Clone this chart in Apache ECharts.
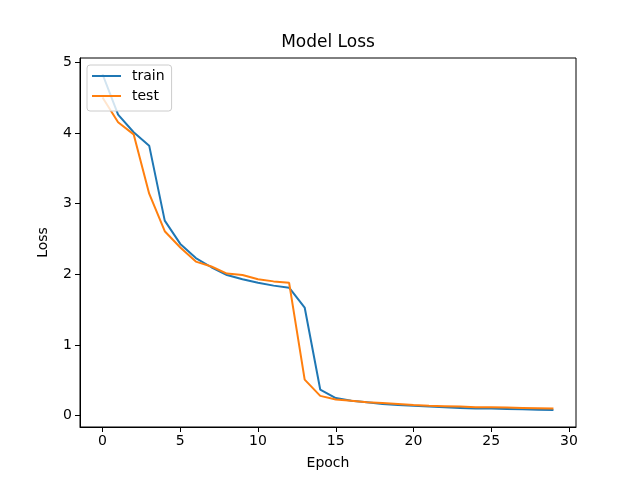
<!DOCTYPE html>
<html>
<head>
<meta charset="utf-8">
<script src="https://cdn.jsdelivr.net/npm/echarts@6/dist/echarts.min.js"></script>
<style>html,body{margin:0;padding:0;background:#fff}#c{width:640px;height:480px}</style>
</head>
<body>
<div id="c"></div>
<script>
const epochs = [0,1,2,3,4,5,6,7,8,9,10,11,12,13,14,15,16,17,18,19,20,21,22,23,24,25,26,27,28,29];
const trainLoss = [4.83,4.26,4.01,3.82,2.76,2.43,2.23,2.10,1.99,1.93,1.88,1.84,1.81,1.53,0.37,0.25,0.21,0.19,0.165,0.15,0.14,0.13,0.12,0.11,0.10,0.10,0.095,0.09,0.085,0.08];
const testLoss = [4.50,4.15,3.98,3.14,2.61,2.38,2.18,2.11,2.01,1.99,1.93,1.90,1.88,0.51,0.28,0.23,0.21,0.19,0.18,0.165,0.15,0.14,0.135,0.13,0.12,0.12,0.115,0.11,0.105,0.10];
const xTicks = [0,5,10,15,20,25,30];
const yTicks = [0,1,2,3,4,5];

const font = 'DejaVu Sans';
const chart = echarts.init(document.getElementById('c'), null, {renderer:'canvas'});
chart.setOption({
  animation: false,
  backgroundColor: '#fff',
  title: {text: 'Model Loss', left: 328, top: 34, textAlign: 'center', padding: 0,
    textStyle: {fontFamily: font, fontSize: 17, fontWeight: 'normal', color: '#000'}},
  legend: {
    orient: 'vertical', left: 87, top: 65,
    data: ['train','test'],
    icon: 'rect', itemWidth: 29, itemHeight: 2, itemGap: 6,
    padding: [4, 7, 8, 5],
    backgroundColor: 'rgba(255,255,255,0.8)', borderColor: '#cccccc', borderWidth: 1, borderRadius: 3,
    textStyle: {fontFamily: font, fontSize: 14, lineHeight: 14, color: '#000', padding: [0,0,0,6]}
  },
  grid: {left: 80, right: 64, top: 58, bottom: 53, show: true, borderColor: '#000', borderWidth: 1, containLabel: false},
  xAxis: {
    type: 'value', min: -1.45, max: 30.45,
    name: 'Epoch', nameLocation: 'middle', nameGap: 29,
    nameTextStyle: {fontFamily: font, fontSize: 14, color: '#000'},
    axisLine: {show: true, onZero: false, lineStyle: {color: '#000', width: 1}},
    axisTick: {show: true, length: 5, lineStyle: {color: '#000'}, customValues: xTicks},
    axisLabel: {fontFamily: font, fontSize: 14, color: '#000', margin: 7, customValues: xTicks},
    splitLine: {show: false}
  },
  yAxis: {
    type: 'value', min: -0.16, max: 5.06,
    name: 'Loss', nameLocation: 'middle', nameGap: 30,
    nameTextStyle: {fontFamily: font, fontSize: 14, color: '#000'},
    axisLine: {show: true, onZero: false, lineStyle: {color: '#000', width: 1}},
    axisTick: {show: true, length: 5, lineStyle: {color: '#000'}, customValues: yTicks},
    axisLabel: {fontFamily: font, fontSize: 14, color: '#000', margin: 8, customValues: yTicks},
    splitLine: {show: false}
  },
  series: [
    {name: 'train', type: 'line', data: epochs.map((e,i)=>[e, trainLoss[i]]), showSymbol: false, symbol: 'none',
      lineStyle: {color: '#1f77b4', width: 2}, itemStyle: {color: '#1f77b4'}},
    {name: 'test', type: 'line', data: epochs.map((e,i)=>[e, testLoss[i]]), showSymbol: false, symbol: 'none',
      lineStyle: {color: '#ff7f0e', width: 2}, itemStyle: {color: '#ff7f0e'}}
  ]
});
</script>
</body>
</html>
